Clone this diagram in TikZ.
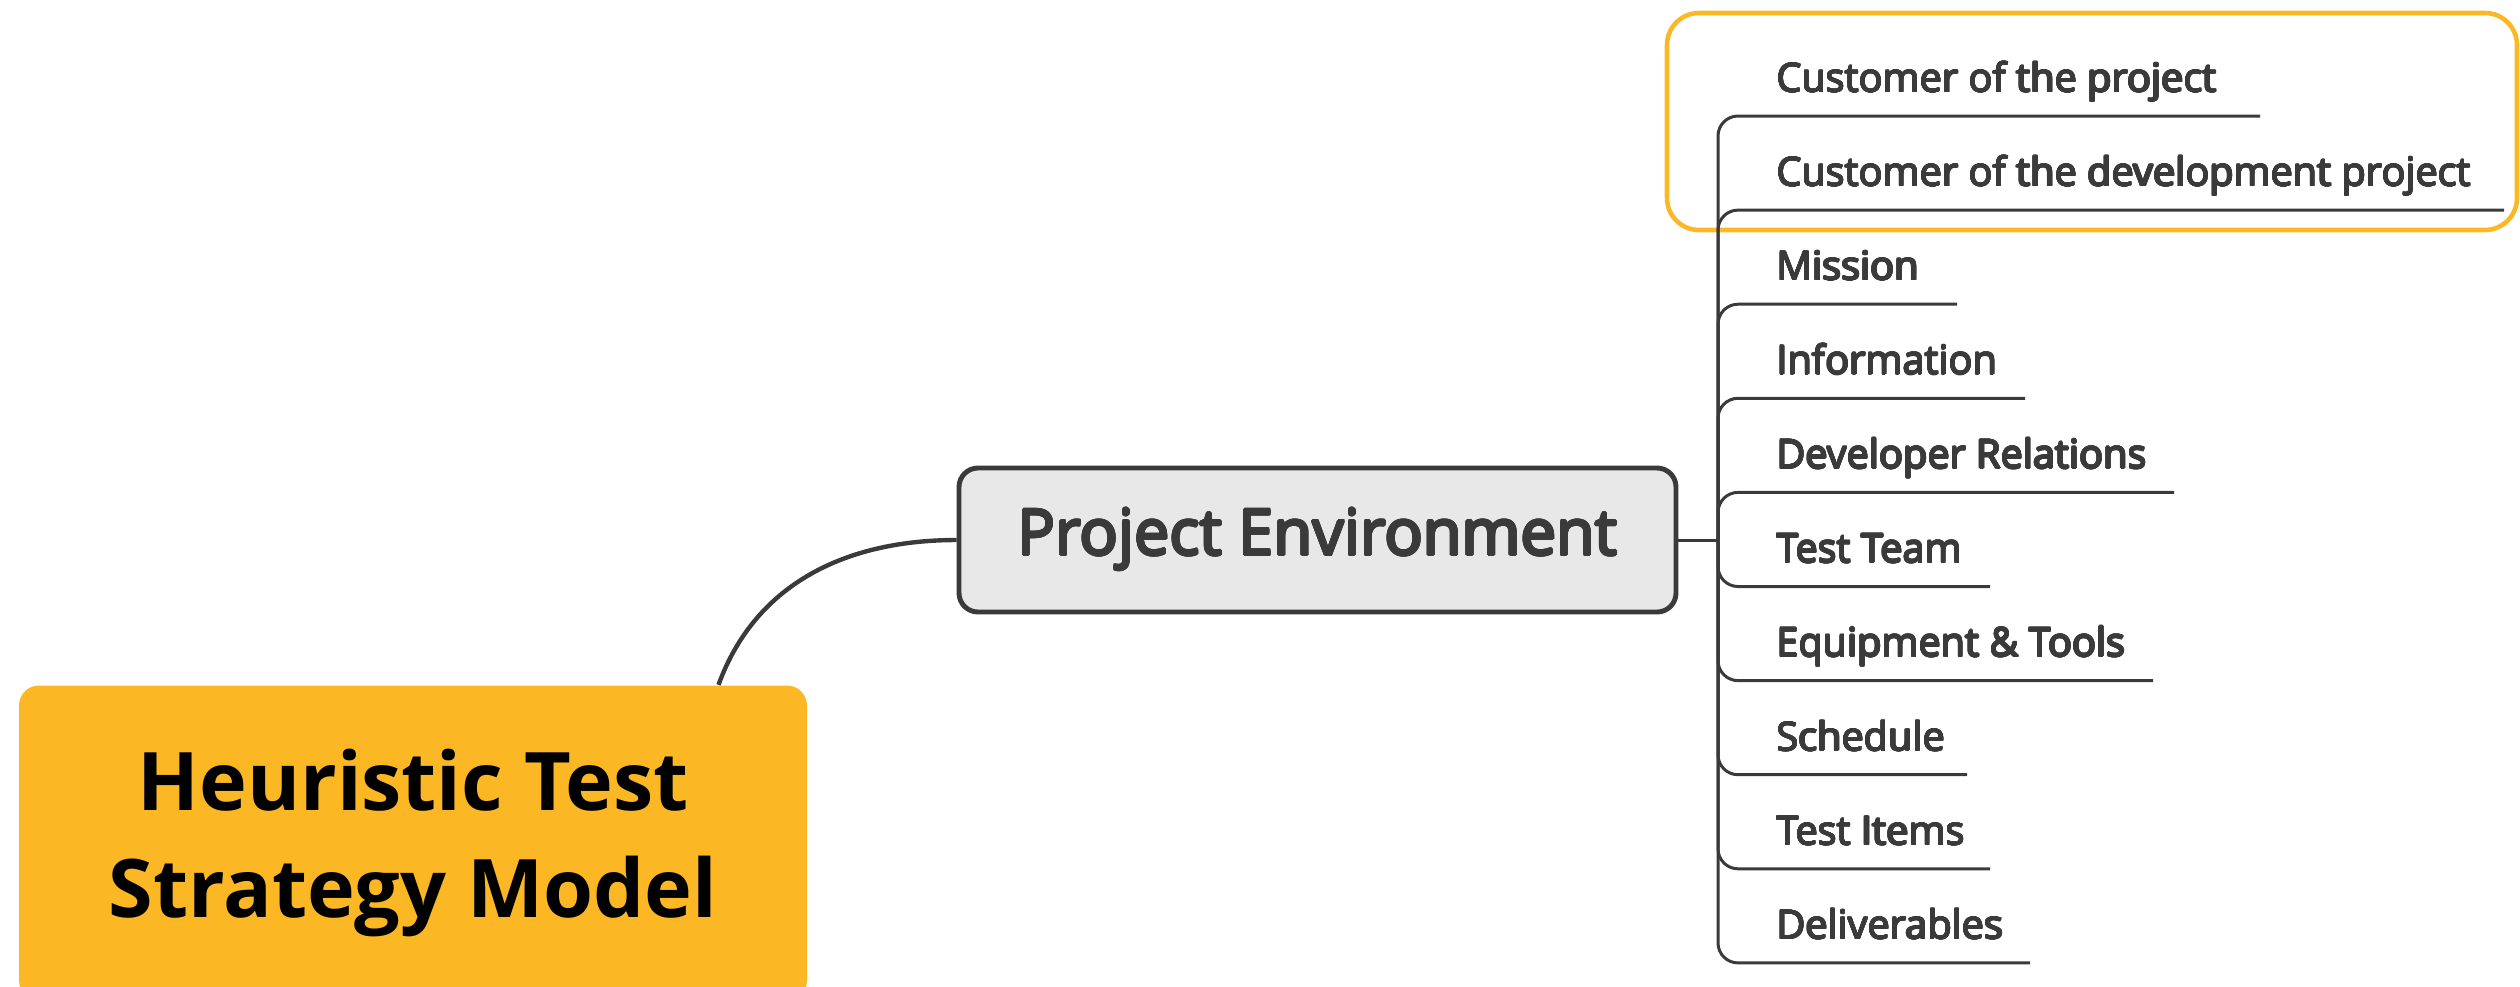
\documentclass[tikz,border=0pt]{standalone}
\usepackage{fontspec}
\setmainfont{Open Sans}
\usepackage[copies]{contour}
\contournumber{16}
\usepackage{tikz}
\usetikzlibrary{calc}
\definecolor{hts}{HTML}{FBB824}
\definecolor{ink}{HTML}{3A3A3A}
\definecolor{boxgray}{HTML}{E8E8E8}
\newcommand{\heavy}[2][0.2pt]{\contourlength{#1}\contour{ink}{#2}}

\begin{document}
\begin{tikzpicture}[
  every node/.style={font=\fontsize{11.3}{13}\selectfont,text=ink},
  rootbox/.style={fill=hts,rounded corners=0.2cm,minimum width=7.88cm,minimum height=3.15cm,align=center,font=\bfseries\fontsize{23}{30.4}\selectfont,text=black},
  envbox/.style={draw=ink,line width=1.4pt,fill=boxgray,rounded corners=0.19cm,minimum width=7.17cm,minimum height=1.44cm,font=\fontsize{18}{22}\selectfont},
  item/.style={anchor=base west,inner sep=0pt},
  link/.style={draw=ink,line width=1.25pt},
  branch/.style={draw=ink,line width=0.85pt,rounded corners=0.2cm},
  hilite/.style={draw=hts,line width=1.3pt,rounded corners=0.32cm}
]
\useasboundingbox (0,0) rectangle (25.2,-9.86);
\draw[hilite] (16.67,-0.13) rectangle (25.17,-2.30);
\node[rootbox] (root) at (4.13,-8.43) {Heuristic Test\\Strategy Model};
\node[envbox] (env) at (13.175,-5.40) {\heavy[0.35pt]{Project Environment}};
\coordinate (hub) at (17.18,-5.40);
\draw[link] ($(root.north west)!0.887!(root.north east)$) to[out=70,in=180] (env.west);
\draw[branch] (env.east) -- (hub);
\foreach \lbl/\ex [count=\i from 0] in {Customer of the project/22.60,
    Customer of the development project/25.04,Mission/19.57,Information/20.25,
    Developer Relations/21.74,Test Team/19.90,Equipment \& Tools/21.53,
    Schedule/19.67,Test Items/19.90,Deliverables/20.30}{
  \node[item] (i\i) at (17.76,{-0.92-0.941*\i}) {\heavy{\lbl}};
  \coordinate (u\i) at (\ex,{-1.16-0.941*\i});
  \draw[branch] (hub) |- (u\i);
}
\end{tikzpicture}
\end{document}
